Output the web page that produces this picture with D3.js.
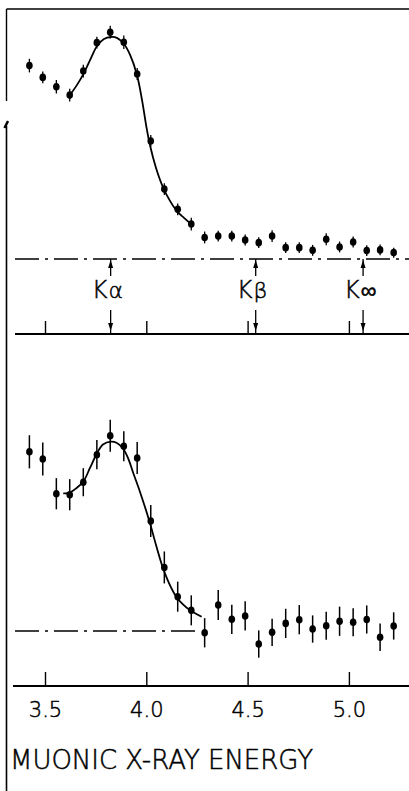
<!DOCTYPE html>
<html lang="en">
<head>
    <meta charset="UTF-8">
    <script src="https://cdn.jsdelivr.net/npm/d3@7"></script>
    <title>Muonic X-ray spectra</title>
    <style>
        body { margin: 0; background: white; }
        text { font-family: "DejaVu Sans", sans-serif; font-weight: 200; fill: black;
               stroke: black; stroke-width: 0.5px; }
    </style>
</head>
<body>
    <div class="fig"></div>

    <script>
        const width = 409;
        const height = 791;

        // channel energies (same for both spectra)
        const energy = [3.423, 3.489, 3.556, 3.622, 3.689, 3.756, 3.822, 3.889, 3.955, 4.022,
                        4.089, 4.155, 4.222, 4.288, 4.355, 4.422, 4.488, 4.555, 4.621, 4.688,
                        4.755, 4.821, 4.888, 4.954, 5.021, 5.088, 5.154, 5.221];

        // upper spectrum, relative counts above background
        const upperCounts = [0.852, 0.800, 0.759, 0.722, 0.828, 0.953, 0.999, 0.955, 0.815, 0.520,
                             0.308, 0.219, 0.154, 0.095, 0.101, 0.101, 0.084, 0.072, 0.101, 0.050,
                             0.050, 0.038, 0.087, 0.053, 0.075, 0.037, 0.040, 0.028];
        const upperErr = [0.030, 0.026, 0.030, 0.028, 0.028, 0.026, 0.028, 0.030, 0.026, 0.026,
                          0.026, 0.026, 0.028, 0.026, 0.024, 0.024, 0.024, 0.024, 0.026, 0.024,
                          0.024, 0.024, 0.026, 0.024, 0.024, 0.024, 0.024, 0.022];

        // lower spectrum
        const lowerCounts = [0.919, 0.882, 0.704, 0.699, 0.763, 0.904, 1.001, 0.947, 0.887, 0.564,
                             0.326, 0.176, 0.106, -0.009, 0.133, 0.060, 0.077, -0.067, -0.007, 0.039,
                             0.058, 0.010, 0.027, 0.050, 0.045, 0.059, -0.032, 0.026];
        const lowerErr = [0.085, 0.085, 0.080, 0.080, 0.072, 0.075, 0.082, 0.077, 0.082, 0.082,
                          0.082, 0.077, 0.077, 0.075, 0.077, 0.075, 0.075, 0.070, 0.070, 0.075,
                          0.075, 0.070, 0.072, 0.075, 0.072, 0.072, 0.070, 0.070];

        // fitted curves
        const upperFitE = [3.623, 3.658, 3.692, 3.727, 3.757, 3.791, 3.826, 3.855, 3.890, 3.920,
                           3.954, 3.979, 3.999, 4.018, 4.048, 4.082, 4.117, 4.151, 4.186, 4.221];
        const upperFit = [0.722, 0.767, 0.819, 0.885, 0.938, 0.969, 0.978, 0.974, 0.947, 0.899,
                          0.811, 0.700, 0.590, 0.502, 0.401, 0.317, 0.256, 0.211, 0.181, 0.154];

        const lowerFitE = [3.590, 3.618, 3.653, 3.689, 3.722, 3.753, 3.786, 3.826, 3.855, 3.884,
                           3.910, 3.936, 3.969, 4.015, 4.048, 4.081, 4.112, 4.148, 4.181, 4.216, 4.273];
        const lowerFit = [0.706, 0.708, 0.731, 0.766, 0.836, 0.904, 0.956, 0.971, 0.964, 0.937,
                          0.887, 0.809, 0.713, 0.564, 0.441, 0.327, 0.246, 0.176, 0.136, 0.106, 0.073];

        // line markers
        const lineNames = ["K", "K", "K"];
        const lineSubs = ["α", "β", "∞"];
        const lineEnergy = [3.824, 4.54, 5.07];

        const tickValues = [3.5, 4.0, 4.5, 5.0];

        const svg = d3.select(".fig").append("svg")
            .attr("width", width)
            .attr("height", height);

        const x = d3.scaleLinear().domain([3.5, 5.0]).range([45, 348.9]);
        const yUp = d3.scaleLinear().domain([0, 1]).range([259, 32]);
        const yLow = d3.scaleLinear().domain([0, 1]).range([631, 436]);

        // frame
        svg.append("line").attr("x1", 6.5).attr("x2", width).attr("y1", 9).attr("y2", 9)
            .attr("stroke", "black").attr("stroke-width", 1.6);
        svg.append("line").attr("x1", 6.5).attr("x2", 6.5).attr("y1", 9).attr("y2", 101)
            .attr("stroke", "black").attr("stroke-width", 1.4);
        svg.append("line").attr("x1", 6.5).attr("x2", 6.5).attr("y1", 126).attr("y2", height)
            .attr("stroke", "black").attr("stroke-width", 1.6);
        svg.append("line").attr("x1", 4.5).attr("x2", 8).attr("y1", 128).attr("y2", 121)
            .attr("stroke", "black").attr("stroke-width", 2.5);

        // baselines (dash-dot)
        svg.append("line").attr("x1", 15).attr("x2", width)
            .attr("y1", yUp(0)).attr("y2", yUp(0))
            .attr("stroke", "black").attr("stroke-width", 1.3)
            .attr("stroke-dasharray", "24 6 3 6");
        svg.append("line").attr("x1", 15).attr("x2", 195)
            .attr("y1", yLow(0)).attr("y2", yLow(0))
            .attr("stroke", "black").attr("stroke-width", 1.3)
            .attr("stroke-dasharray", "24 6 3 6");

        // axes
        const upperAxis = svg.append("g")
            .attr("transform", "translate(0,334)")
            .call(d3.axisTop(x).tickValues(tickValues).tickSize(13).tickSizeOuter(0).tickFormat(""));
        upperAxis.select(".domain").remove();
        svg.append("line").attr("x1", 15).attr("x2", width).attr("y1", 334).attr("y2", 334)
            .attr("stroke", "black").attr("stroke-width", 1.8);

        const lowerAxis = svg.append("g")
            .attr("transform", "translate(0,686)")
            .call(d3.axisBottom(x).tickValues(tickValues).tickSize(-14).tickSizeOuter(0)
                .tickPadding(16).tickFormat(d3.format(".1f")));
        lowerAxis.select(".domain").remove();
        lowerAxis.selectAll("text")
            .attr("font-size", 21)
            .attr("font-family", "DejaVu Sans, sans-serif");
        svg.append("line").attr("x1", 13).attr("x2", width).attr("y1", 686).attr("y2", 686)
            .attr("stroke", "black").attr("stroke-width", 1.8);

        svg.selectAll(".tick line").attr("stroke", "black").attr("stroke-width", 1.4);

        svg.append("text")
            .attr("x", 10).attr("y", 769)
            .attr("font-size", 26)
            .attr("textLength", 303)
            .attr("lengthAdjust", "spacingAndGlyphs")
            .text("MUONIC  X-RAY  ENERGY");

        // line markers with arrows
        const arrowHead = (g, xp, tip, dir) => {
            g.append("path")
                .attr("d", `M${xp},${tip} L${xp - 2.5},${tip + dir * 8} L${xp + 2.5},${tip + dir * 8} Z`)
                .attr("fill", "black");
        };
        const markers = svg.append("g");
        lineEnergy.forEach((e, i) => {
            const xp = x(e);
            markers.append("line").attr("x1", xp).attr("x2", xp).attr("y1", 259).attr("y2", 276)
                .attr("stroke", "black").attr("stroke-width", 1.3);
            arrowHead(markers, xp, 260, 1);
            markers.append("line").attr("x1", xp).attr("x2", xp).attr("y1", 310).attr("y2", 333)
                .attr("stroke", "black").attr("stroke-width", 1.3);
            arrowHead(markers, xp, 331, -1);
            const t = markers.append("text")
                .attr("x", xp - 19).attr("y", 298)
                .attr("font-size", 24);
            t.append("tspan").text(lineNames[i]);
            t.append("tspan").attr("dx", 1).attr("font-size", 22).text(lineSubs[i]);
        });

        // data points with error bars
        const drawPoints = (counts, errs, y, barWidth) => {
            const g = svg.append("g");
            g.selectAll("line")
                .data(counts)
                .enter()
                .append("line")
                .attr("x1", (d, i) => x(energy[i]))
                .attr("x2", (d, i) => x(energy[i]))
                .attr("y1", (d, i) => y(d + errs[i]))
                .attr("y2", (d, i) => y(d - errs[i]))
                .attr("stroke", "black")
                .attr("stroke-width", barWidth);
            g.selectAll("ellipse")
                .data(counts)
                .enter()
                .append("ellipse")
                .attr("cx", (d, i) => x(energy[i]))
                .attr("cy", d => y(d))
                .attr("rx", 3.3)
                .attr("ry", 3.8)
                .attr("fill", "black");
        };

        const drawFit = (es, vals, y) => {
            svg.append("path")
                .datum(es)
                .attr("fill", "none")
                .attr("stroke", "black")
                .attr("stroke-width", 1.8)
                .attr("d", d3.line()
                    .x(d => x(d))
                    .y((d, i) => y(vals[i]))
                    .curve(d3.curveCatmullRom));
        };

        drawFit(upperFitE, upperFit, yUp);
        drawFit(lowerFitE, lowerFit, yLow);
        drawPoints(upperCounts, upperErr, yUp, 1.3);
        drawPoints(lowerCounts, lowerErr, yLow, 1.5);
    </script>
</body>
</html>
